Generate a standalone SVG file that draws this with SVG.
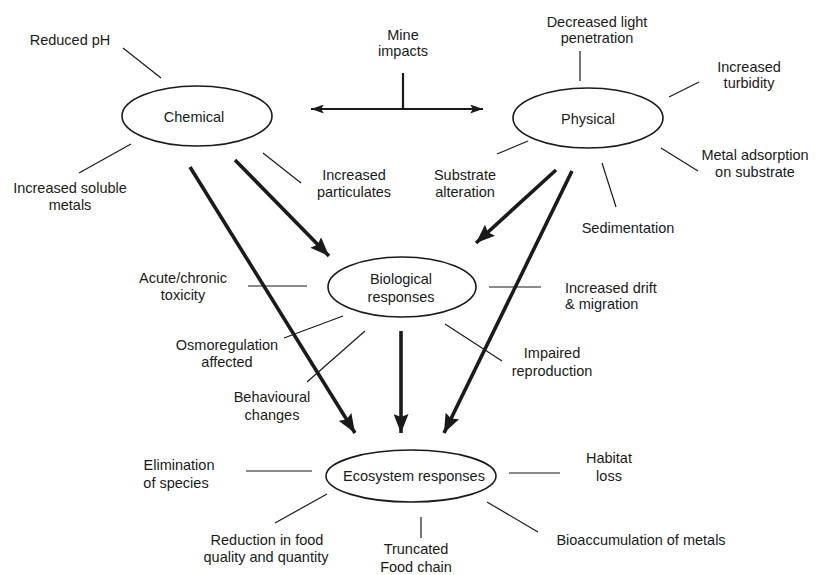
<svg xmlns="http://www.w3.org/2000/svg" width="826" height="575" viewBox="0 0 826 575">
<style>
text{font-family:"Liberation Sans",Arial,sans-serif;font-size:14.5px;fill:#1a1a1a;text-anchor:middle}
.node ellipse{fill:#fff;stroke:#1a1a1a;stroke-width:1.6}
.thin{stroke:#1a1a1a;stroke-width:1.2;fill:none}
.thick{stroke:#1a1a1a;stroke-width:3.6;fill:none;marker-end:url(#big)}
.mine{stroke:#1a1a1a;stroke-width:2.2;fill:none}
.l{text-anchor:start}
</style>
<defs>
<marker id="big" markerUnits="userSpaceOnUse" viewBox="0 0 19 15" refX="19" refY="7.5" markerWidth="19" markerHeight="15" orient="auto">
<path d="M0,0 L19,7.5 L0,15 L3,7.5 z" fill="#1a1a1a"/>
</marker>
<marker id="sm" markerUnits="userSpaceOnUse" viewBox="0 0 13 9" refX="13" refY="4.5" markerWidth="13" markerHeight="9" orient="auto-start-reverse">
<path d="M0,0 L13,4.5 L0,9 L3,4.5 z" fill="#1a1a1a"/>
</marker>
</defs>
<rect width="826" height="575" fill="#fff"/>
<g id="connectors">
<line class="mine" x1="403" y1="73" x2="403" y2="109"/>
<line class="mine" x1="311" y1="109" x2="483" y2="109" marker-start="url(#sm)" marker-end="url(#sm)"/>
<line class="thick" x1="190" y1="167" x2="355" y2="433"/>
<line class="thick" x1="235" y1="160" x2="329" y2="256"/>
<line class="thick" x1="556" y1="170" x2="476" y2="243"/>
<line class="thick" x1="572" y1="171" x2="444" y2="433"/>
<line class="thick" x1="401" y1="331" x2="401" y2="433"/>
</g>
<g id="mine-impacts"><text x="403" y="40">Mine</text><text x="403" y="56">impacts</text></g>
<g id="chemical" class="node">
<ellipse cx="197" cy="116" rx="75" ry="30"/>
<text x="194" y="122">Chemical</text>
</g>
<g id="physical" class="node">
<ellipse cx="588" cy="118" rx="75" ry="30"/>
<text x="588" y="124">Physical</text>
</g>
<g id="biological" class="node">
<ellipse cx="402" cy="287" rx="74" ry="30"/>
<text x="401" y="284">Biological</text>
<text x="401" y="302">responses</text>
</g>
<g id="ecosystem" class="node">
<ellipse cx="411" cy="476" rx="85" ry="26"/>
<text x="414" y="481">Ecosystem responses</text>
</g>
<g id="reduced-ph"><line class="thin" x1="123" y1="48" x2="161" y2="78"/><text x="70" y="45">Reduced pH</text></g>
<g id="soluble-metals"><line class="thin" x1="131" y1="144" x2="79" y2="173"/><text x="70" y="193">Increased soluble</text><text x="70" y="210">metals</text></g>
<g id="particulates"><line class="thin" x1="263" y1="153" x2="301" y2="183"/><text x="354" y="180">Increased</text><text x="354" y="197">particulates</text></g>
<g id="light"><line class="thin" x1="580" y1="51" x2="580" y2="81"/><text x="597" y="27">Decreased light</text><text x="597" y="43">penetration</text></g>
<g id="turbidity"><line class="thin" x1="699" y1="82" x2="669" y2="97"/><text x="749" y="72">Increased</text><text x="749" y="88">turbidity</text></g>
<g id="adsorption"><line class="thin" x1="661" y1="148" x2="698" y2="171"/><text x="755" y="160">Metal adsorption</text><text x="755" y="177">on substrate</text></g>
<g id="sedimentation"><line class="thin" x1="602" y1="163" x2="616" y2="207"/><text x="628" y="233">Sedimentation</text></g>
<g id="substrate"><line class="thin" x1="528" y1="141" x2="497" y2="154"/><text x="465" y="180">Substrate</text><text x="465" y="197">alteration</text></g>
<g id="toxicity"><line class="thin" x1="248" y1="286" x2="307" y2="286"/><text x="183" y="283">Acute/chronic</text><text x="183" y="300">toxicity</text></g>
<g id="drift"><line class="thin" x1="489" y1="287" x2="541" y2="287"/><text class="l" x="565" y="293">Increased drift</text><text class="l" x="565" y="309">&amp; migration</text></g>
<g id="osmoregulation"><line class="thin" x1="343" y1="316" x2="284" y2="338"/><text x="227" y="350">Osmoregulation</text><text x="227" y="367">affected</text></g>
<g id="behavioural"><line class="thin" x1="365" y1="331" x2="307" y2="382"/><text x="272" y="402">Behavioural</text><text x="272" y="420">changes</text></g>
<g id="reproduction"><line class="thin" x1="445" y1="324" x2="502" y2="361"/><text x="552" y="358">Impaired</text><text x="552" y="376">reproduction</text></g>
<g id="elimination"><line class="thin" x1="246" y1="471" x2="312" y2="471"/><text x="179" y="470">Elimination</text><text x="176" y="488">of species</text></g>
<g id="habitat"><line class="thin" x1="509" y1="473" x2="560" y2="473"/><text x="609" y="463">Habitat</text><text x="609" y="481">loss</text></g>
<g id="food-quality"><line class="thin" x1="327" y1="494" x2="275" y2="523"/><text x="267" y="545">Reduction in food</text><text x="266" y="562">quality and quantity</text></g>
<g id="truncated"><line class="thin" x1="421" y1="517" x2="421" y2="538"/><text x="416" y="554">Truncated</text><text x="416" y="572">Food chain</text></g>
<g id="bioaccumulation"><line class="thin" x1="487" y1="502" x2="538" y2="532"/><text x="641" y="545">Bioaccumulation of metals</text></g>
</svg>
